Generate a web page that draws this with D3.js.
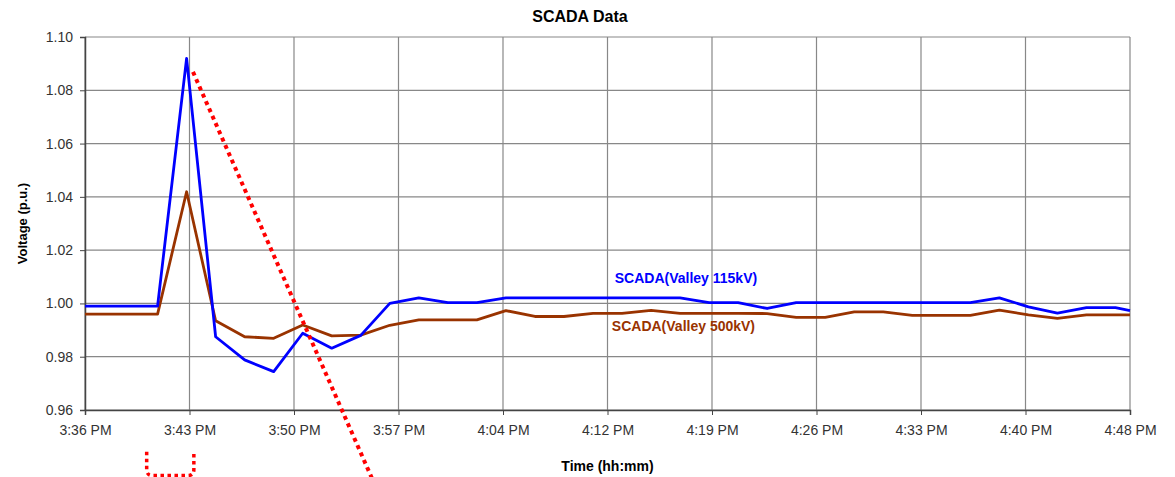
<!DOCTYPE html>
<html>
<head>
<meta charset="utf-8">
<script src="https://cdn.jsdelivr.net/npm/d3@7"></script>
<style>
  body { margin: 0; background: #fff; }
  svg { font-family: "Liberation Sans", Arial, sans-serif; }
</style>
</head>
<body>
<div id="chart"></div>
<script>
// SCADA voltage data (minutes after 3:36 PM)
const minutes = [0, 1, 3, 5, 7, 9, 11, 13, 15, 17, 19, 21, 23, 25, 27, 29, 31, 33, 35, 37,
                 39, 41, 43, 45, 47, 49, 51, 53, 55, 57, 59, 61, 63, 65, 67, 69, 71, 72];

const valley115 = [0.9990, 0.9990, 0.9990, 0.9990, 1.0920, 0.9875, 0.9788, 0.9744, 0.9888, 0.9832,
                   0.9880, 1.0000, 1.0021, 1.0003, 1.0003, 1.0021, 1.0021, 1.0021, 1.0021, 1.0021,
                   1.0021, 1.0021, 1.0003, 1.0003, 0.9981, 1.0003, 1.0003, 1.0003, 1.0003, 1.0003,
                   1.0003, 1.0003, 1.0021, 0.9987, 0.9964, 0.9984, 0.9984, 0.9973];

const valley500 = [0.9960, 0.9960, 0.9960, 0.9960, 1.0419, 0.9935, 0.9875, 0.9869, 0.9919, 0.9878,
                   0.9881, 0.9918, 0.9938, 0.9938, 0.9938, 0.9973, 0.9951, 0.9951, 0.9963, 0.9963,
                   0.9974, 0.9963, 0.9963, 0.9963, 0.9962, 0.9948, 0.9948, 0.9968, 0.9968, 0.9955,
                   0.9955, 0.9955, 0.9975, 0.9957, 0.9944, 0.9957, 0.9957, 0.9957];

const tickMinutes = [0, 7.2, 14.4, 21.6, 28.8, 36, 43.2, 50.4, 57.6, 64.8, 72];
const tickLabels = ["3:36 PM", "3:43 PM", "3:50 PM", "3:57 PM", "4:04 PM", "4:12 PM",
                    "4:19 PM", "4:26 PM", "4:33 PM", "4:40 PM", "4:48 PM"];
const yTicks = [0.96, 0.98, 1.00, 1.02, 1.04, 1.06, 1.08, 1.10];

// red dotted annotation marks, in data units (minute, voltage)
const arrowLine = [[7.44, 1.0869], [19.8, 0.9340]];
const bracket = {left: 4.25, right: 7.5, top: 0.9443, bottom: 0.9354};

const W = 1175, H = 477;
const margin = {top: 37, right: 45, bottom: 67, left: 85};
const width = W - margin.left - margin.right,
      height = H - margin.top - margin.bottom;

const svg = d3.select("#chart").append("svg")
    .attr("width", W)
    .attr("height", H);

const g = svg.append("g")
    .attr("transform", `translate(${margin.left},${margin.top})`);

const x = d3.scaleLinear().domain([0, 72]).range([0, width]);
const y = d3.scaleLinear().domain([0.96, 1.10]).range([height, 0]);

// Gridlines
g.selectAll(".hgrid")
    .data(yTicks)
    .enter().append("line")
    .attr("x1", 0).attr("x2", width)
    .attr("y1", d => y(d)).attr("y2", d => y(d))
    .attr("stroke", "#888")
    .attr("stroke-width", 1.2);

g.selectAll(".vgrid")
    .data(tickMinutes)
    .enter().append("line")
    .attr("x1", d => x(d)).attr("x2", d => x(d))
    .attr("y1", 0).attr("y2", height)
    .attr("stroke", "#888")
    .attr("stroke-width", 1.2);

// Axes
const yAxis = g.append("g")
    .call(d3.axisLeft(y).tickValues(yTicks).tickFormat(d3.format(".2f")).tickSizeOuter(0).tickSize(5));
yAxis.select(".domain").attr("stroke", "#444").attr("stroke-width", 1.5);
yAxis.selectAll(".tick line").attr("stroke", "#444");
yAxis.selectAll("text")
    .attr("x", -12)
    .style("font-size", "14px")
    .attr("fill", "#333");

const xAxis = g.append("g")
    .attr("transform", `translate(0,${height})`)
    .call(d3.axisBottom(x).tickValues(tickMinutes)
        .tickFormat((d, i) => tickLabels[i]).tickSizeOuter(0).tickSize(5));
xAxis.select(".domain").attr("stroke", "#444").attr("stroke-width", 1.5);
xAxis.selectAll(".tick line").attr("stroke", "#444");
xAxis.selectAll("text")
    .attr("y", 15)
    .style("font-size", "14px")
    .attr("fill", "#333");

// Lines
const line = d3.line()
    .x((d, i) => x(minutes[i]))
    .y(d => y(d));

g.append("path")
    .datum(valley500)
    .attr("d", line)
    .attr("fill", "none")
    .attr("stroke", "#993300")
    .attr("stroke-width", 2.8)
    .attr("stroke-linejoin", "round");

g.append("path")
    .datum(valley115)
    .attr("d", line)
    .attr("fill", "none")
    .attr("stroke", "#0000ff")
    .attr("stroke-width", 2.8)
    .attr("stroke-linejoin", "round");

// Series labels
g.append("text")
    .attr("x", x(36.5))
    .attr("y", y(1.0077))
    .style("font-size", "14px")
    .style("font-weight", "bold")
    .attr("fill", "#0000ff")
    .text("SCADA(Valley 115kV)");

g.append("text")
    .attr("x", x(36.3))
    .attr("y", y(0.9895))
    .style("font-size", "14px")
    .style("font-weight", "bold")
    .attr("fill", "#993300")
    .text("SCADA(Valley 500kV)");

// Title and axis titles
svg.append("text")
    .attr("x", 580)
    .attr("y", 22)
    .attr("text-anchor", "middle")
    .style("font-size", "16px")
    .style("font-weight", "bold")
    .text("SCADA Data");

svg.append("text")
    .attr("transform", "rotate(-90)")
    .attr("x", -(margin.top + height / 2))
    .attr("y", 27)
    .attr("text-anchor", "middle")
    .style("font-size", "13px")
    .style("font-weight", "bold")
    .text("Voltage (p.u.)");

svg.append("text")
    .attr("x", margin.left + width / 2)
    .attr("y", 471)
    .attr("text-anchor", "middle")
    .style("font-size", "14px")
    .style("font-weight", "bold")
    .text("Time (hh:mm)");

// Red dotted annotations
g.append("line")
    .attr("x1", x(arrowLine[0][0])).attr("y1", y(arrowLine[0][1]))
    .attr("x2", x(arrowLine[1][0])).attr("y2", y(arrowLine[1][1]))
    .attr("stroke", "#ff0000")
    .attr("stroke-width", 4)
    .attr("stroke-dasharray", "4,4");

const bl = x(bracket.left), br = x(bracket.right),
      bt = y(bracket.top), bb = y(bracket.bottom), r = 6;
g.append("path")
    .attr("d", `M${bl},${bt} L${bl},${bb - r} Q${bl},${bb} ${bl + r},${bb} L${br - r},${bb} Q${br},${bb} ${br},${bb - r} L${br},${bt}`)
    .attr("fill", "none")
    .attr("stroke", "#ff0000")
    .attr("stroke-width", 3.5)
    .attr("stroke-dasharray", "3.5,3.5");
</script>
</body>
</html>
